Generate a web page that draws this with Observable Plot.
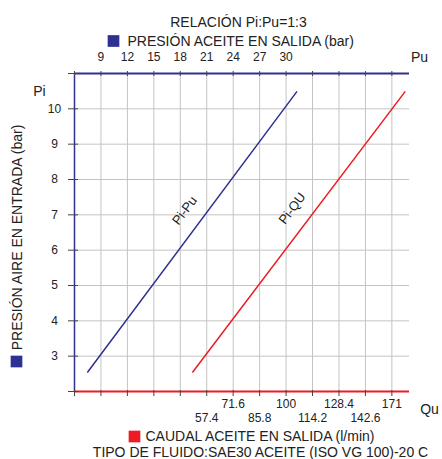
<!DOCTYPE html>
<html><head><meta charset="utf-8">
<script src="https://cdn.jsdelivr.net/npm/d3@7"></script>
<script src="https://cdn.jsdelivr.net/npm/@observablehq/plot@0.6"></script>
<style>body{margin:0;background:#fff}svg{display:block}</style>
</head><body><div id="chart"></div>
<script>
// Data
const gridPu = [6, 9, 12, 15, 18, 21, 24, 27, 30, 33, 36, 39, 42];
const puTickLabels = [9, 12, 15, 18, 21, 24, 27, 30];
const piTicks = [3, 4, 5, 6, 7, 8, 9, 10];
const quTickPos = [21, 24, 27, 30, 33, 36, 39, 42];
const quTickLabels = ["57.4", "71.6", "85.8", "100", "114.2", "128.4", "142.6", "171"];
const bluePi = [2.55, 10.48];
const bluePu = [7.5, 31.2];
const redPi = [2.55, 10.48];
const redQu = [49.9, 163.8];
const lineLabels = ["Pi-Pu", "Pi-QU"];
const lineLabelPu = [18.5, 30.7];
const lineLabelPi = [7.12, 7.18];

const BLUE = "#2e3192", RED = "#ed1c24", GRID = "#c4c4c4", TICK = "#444", INK = "#222";
const FONT = "Liberation Sans, Arial, sans-serif";
// Qu -> position on the shared horizontal axis
const quToPos = d3.scaleLinear().domain([57.4, 71.6]).range([21, 24]);

const blue = bluePi.map((p, i) => ({x: bluePu[i], y: p}));
const red = redPi.map((p, i) => ({x: quToPos(redQu[i]), y: p}));
const quTicks = quTickPos.map((x, i) => ({x, label: quTickLabels[i], row: i % 2}));
const labs = lineLabels.map((t, i) => ({t, x: lineLabelPu[i], y: lineLabelPi[i]}));

const T = (opts) => ({textAnchor: "middle", lineAnchor: "middle", fill: INK, fontSize: 14, ...opts});

const chart = Plot.plot({
  width: 442, height: 459,
  marginLeft: 74, marginRight: 33, marginTop: 73, marginBottom: 68,
  style: {fontFamily: FONT, fontSize: "12px", color: INK, background: "#fff"},
  x: {domain: [6, 44], axis: null},
  y: {domain: [2, 11], axis: null},
  marks: [
    Plot.gridX(gridPu, {stroke: GRID, strokeOpacity: 1}),
    Plot.gridY(piTicks, {stroke: GRID, strokeOpacity: 1}),
    // axis lines
    Plot.ruleY([11], {stroke: BLUE, strokeWidth: 2}),
    Plot.ruleX([6], {stroke: BLUE, strokeWidth: 1.5}),
    Plot.ruleY([2], {stroke: RED, strokeWidth: 2}),
    // top ticks
    Plot.ruleX(gridPu, {x: d => d, y1: 11, y2: 11, insetTop: -2, insetBottom: -3, stroke: TICK}),
    // bottom ticks
    Plot.ruleX(gridPu, {x: d => d, y1: 2, y2: 2, insetTop: -1, insetBottom: -5, stroke: TICK}),
    // left ticks
    Plot.ruleY([2, ...piTicks, 11], {y: d => d, x1: 6, x2: 6, insetLeft: -6, insetRight: -4, stroke: TICK}),
    // tick labels
    Plot.text(puTickLabels, T({x: d => d, frameAnchor: "top", dy: -16, fontSize: 12})),
    Plot.text(piTicks, T({y: d => d, frameAnchor: "left", dx: -20, fontSize: 12})),
    Plot.text(quTicks.filter(d => d.row === 1), T({x: "x", text: "label", frameAnchor: "bottom", dy: 13, fontSize: 12})),
    Plot.text(quTicks.filter(d => d.row === 0), T({x: "x", text: "label", frameAnchor: "bottom", dy: 27, fontSize: 12})),
    // lines
    Plot.line(blue, {x: "x", y: "y", stroke: BLUE, strokeWidth: 1.5}),
    Plot.line(red, {x: "x", y: "y", stroke: RED, strokeWidth: 1.5}),
    Plot.text(labs, T({x: "x", y: "y", text: "t", rotate: -53, fontSize: 13})),
    // titles / legends
    Plot.text(["RELACIÓN Pi:Pu=1:3"], T({frameAnchor: "top", dx: -3.5, dy: -51})),
    Plot.dot([0], {frameAnchor: "top-left", dx: 39, dy: -32.5, symbol: "square", r: 6.6, fill: BLUE}),
    Plot.text(["PRESIÓN ACEITE EN SALIDA (bar)"], T({frameAnchor: "top-left", dx: 53, dy: -32, textAnchor: "start"})),
    Plot.text(["Pu"], T({frameAnchor: "top-right", dx: 10, dy: -16})),
    Plot.text(["Pi"], T({frameAnchor: "top-left", dx: -35, dy: 18})),
    Plot.text(["PRESIÓN AIRE EN ENTRADA (bar)"], T({frameAnchor: "left", rotate: -90, dx: -57, dy: 5})),
    Plot.dot([0], {frameAnchor: "bottom-left", dx: -58, dy: -30, symbol: "square", r: 6.6, fill: BLUE}),
    Plot.text(["Qu"], T({frameAnchor: "bottom-right", dx: 20, dy: 18})),
    Plot.dot([0], {frameAnchor: "bottom-left", dx: 60, dy: 45, symbol: "square", r: 6.6, fill: RED}),
    Plot.text(["CAUDAL ACEITE EN SALIDA (l/min)"], T({frameAnchor: "bottom-left", dx: 71, dy: 45, textAnchor: "start"})),
    Plot.text(["TIPO DE FLUIDO:SAE30 ACEITE (ISO VG 100)-20 C"], T({frameAnchor: "bottom", dx: 18.5, dy: 61}))
  ]
});
document.getElementById("chart").append(chart);
</script>
</body></html>
